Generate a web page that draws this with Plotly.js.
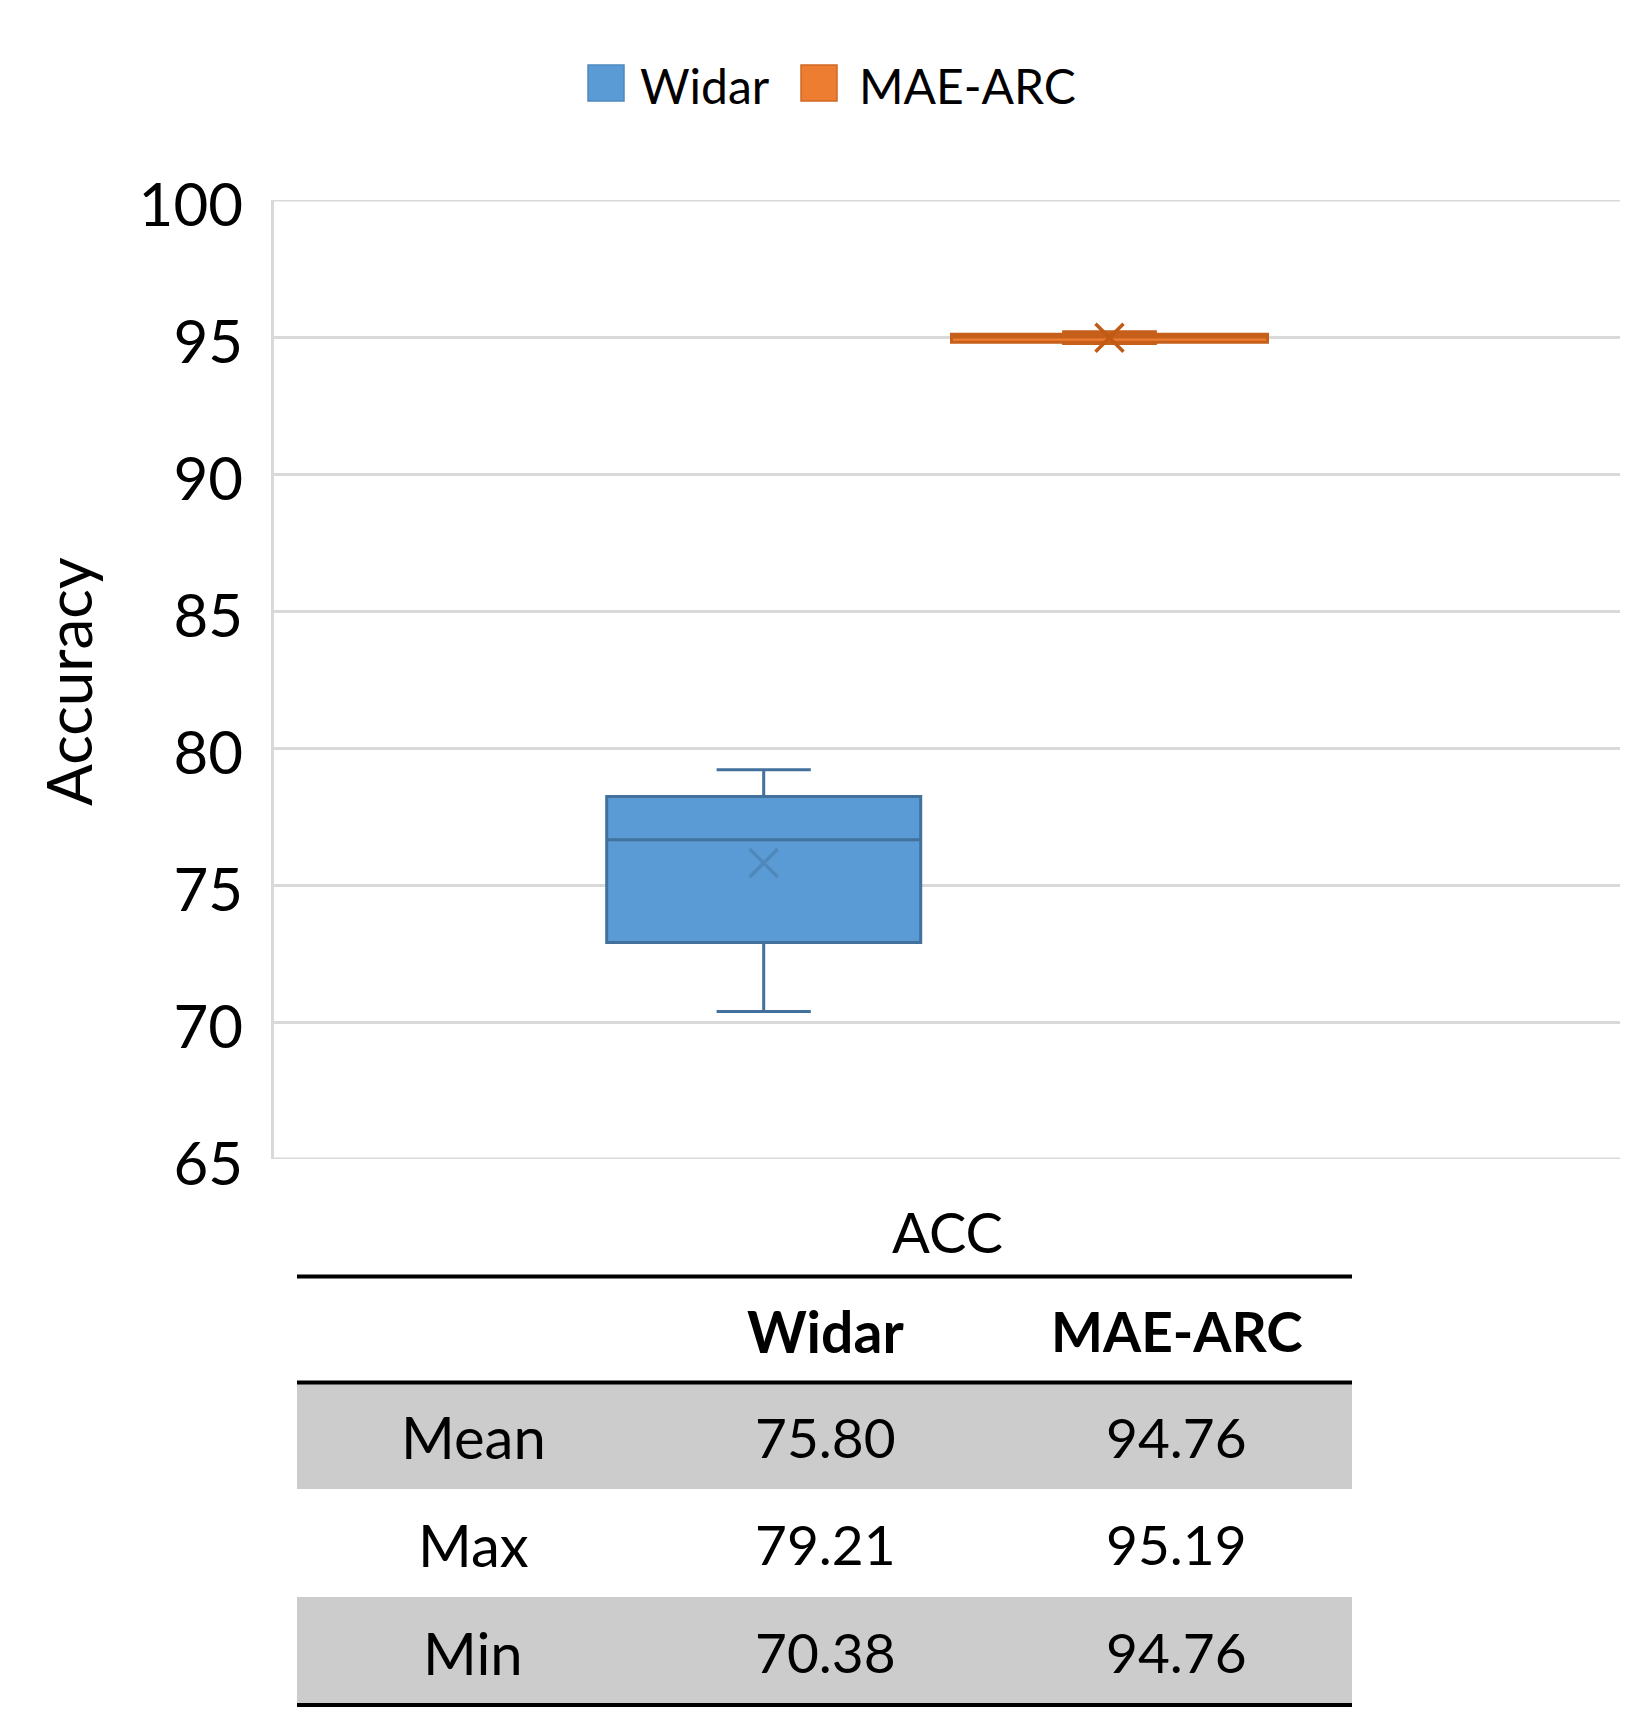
<!DOCTYPE html>
<html><head><meta charset="utf-8">
<script src="https://cdn.plot.ly/plotly-3.0.1.min.js"></script>
<style>html,body{margin:0;padding:0;background:#fff}</style>
</head><body><div id="chart" style="width:1650px;height:1726px"></div>
<script>
// ---- data ----
const seriesNames = ['Widar', 'MAE-ARC'];
const lowerFence = [70.38, 94.76];
const q1Values = [72.90, 94.81];
const medianValues = [76.65, 95.00];
const q3Values = [78.23, 95.10];
const upperFence = [79.21, 95.19];
const meanValues = [75.80, 94.97];
const yTicks = [65, 70, 75, 80, 85, 90, 95, 100];
const xTitle = 'ACC';
const yTitle = 'Accuracy';
const statLabels = ['Mean', 'Max', 'Min'];
const widarStats = ['75.80', '79.21', '70.38'];
const maeStats = ['94.76', '95.19', '94.76'];

// ---- layout geometry ----
const W = 1650, H = 1726, L = 274, R = 30, T = 200, B = 567;
const plotW = W - L - R, plotH = H - T - B;
const px2x = p => (p - L) / plotW;
const py2y = p => (H - B - p) / plotH;
const FONT = 'Lato, "Open Sans", sans-serif';

const boxPos = [px2x(763.7), px2x(1109.5)];
const boxWidth = [314 / plotW, 316 / plotW];
const fills = ['#5b9bd5', '#ed7d31'];
const lines = ['#41719c', '#c55f1a'];
const meanColors = ['rgba(65,113,156,0.45)', '#c05a15'];

const traces = seriesNames.map((n, i) => ({
  type: 'box', name: n, x: [boxPos[i]],
  q1: [q1Values[i]], median: [medianValues[i]], q3: [q3Values[i]],
  lowerfence: [lowerFence[i]], upperfence: [upperFence[i]],
  width: boxWidth[i], whiskerwidth: 0.3, boxpoints: false,
  fillcolor: fills[i], line: {color: lines[i], width: 3},
  showlegend: false, hoverinfo: 'skip'
}));
traces.push({
  type: 'scatter', mode: 'markers', x: boxPos, y: meanValues, showlegend: false, hoverinfo: 'skip',
  marker: {symbol: 'x-thin-open', size: 28, color: meanColors, line: {width: 3.5, color: meanColors}}
});

const GRID = '#d9d9d9';
const shapes = [];
const annotations = [];
// gridlines at the range ends (Plotly omits them at the plot edges)
[yTicks[0], yTicks[yTicks.length - 1]].forEach(v => {
  shapes.push({type: 'line', xref: 'paper', yref: 'y', x0: 0, x1: 1, y0: v, y1: v, layer: 'below',
    line: {color: GRID, width: 3}});
});
// legend
const legSq = [[588, 624], [801, 837]];
const legText = [638, 857];
const legBorder = ['#4f88bd', '#d06a25'];
seriesNames.forEach((n, i) => {
  shapes.push({type: 'rect', xref: 'paper', yref: 'paper', x0: px2x(legSq[i][0]), x1: px2x(legSq[i][1]),
    y0: py2y(65), y1: py2y(101), fillcolor: fills[i], line: {color: legBorder[i], width: 1.5}});
  annotations.push({xref: 'paper', yref: 'paper', x: px2x(legText[i]), y: py2y(86), xanchor: 'left', yanchor: 'middle',
    text: n, showarrow: false, font: {family: FONT, size: 48, color: '#000'}});
});
// axis titles
annotations.push({xref: 'paper', yref: 'paper', x: px2x(947), y: py2y(1231), xanchor: 'center', yanchor: 'middle',
  text: xTitle, showarrow: false, font: {family: FONT, size: 56, color: '#000'}});
annotations.push({xref: 'paper', yref: 'paper', x: px2x(68), y: py2y(681), xanchor: 'center', yanchor: 'middle',
  text: yTitle, textangle: -90, showarrow: false, font: {family: FONT, size: 62, color: '#000'}});

// table
const tX0 = 297, tX1 = 1352;
const colX = [473, 825.5, 1176.6];
const rowTop = [1383, 1489, 1597];
const rowBot = [1489, 1597, 1705];
const rowFill = ['#cccccc', '#ffffff', '#cccccc'];
statLabels.forEach((lab, r) => {
  if (rowFill[r] !== '#ffffff') shapes.push({type: 'rect', xref: 'paper', yref: 'paper', layer: 'below',
    x0: px2x(tX0), x1: px2x(tX1), y0: py2y(rowBot[r]), y1: py2y(rowTop[r]), fillcolor: rowFill[r], line: {width: 0}});
  const yc = (rowTop[r] + rowBot[r]) / 2 + 1;
  [lab, widarStats[r], maeStats[r]].forEach((t, c) => {
    annotations.push({xref: 'paper', yref: 'paper', x: px2x(colX[c]), y: py2y(yc), xanchor: 'center', yanchor: 'middle',
      text: t, showarrow: false, font: {family: FONT, size: c === 0 ? 58 : 55, color: '#000'}});
  });
});
seriesNames.forEach((n, i) => {
  annotations.push({xref: 'paper', yref: 'paper', x: px2x(colX[i + 1]), y: py2y(1331), xanchor: 'center', yanchor: 'middle',
    text: '<b>' + n + '</b>', showarrow: false, font: {family: FONT, size: i === 0 ? 57 : 55, color: '#000'}});
});
[1276.5, 1382.5, 1705].forEach(yy => {
  shapes.push({type: 'line', xref: 'paper', yref: 'paper', x0: px2x(tX0), x1: px2x(tX1), y0: py2y(yy), y1: py2y(yy),
    line: {color: '#000', width: 4}});
});

const layout = {
  width: W, height: H, autosize: false,
  margin: {l: L, r: R, t: T, b: B, pad: 0},
  paper_bgcolor: '#fff', plot_bgcolor: '#fff',
  showlegend: false,
  xaxis: {range: [0, 1], showgrid: false, zeroline: false, showticklabels: false, showline: false, ticks: '', fixedrange: true},
  yaxis: {range: [65, 100], tickvals: yTicks, ticktext: yTicks.map(String), showgrid: true, gridcolor: GRID, gridwidth: 3,
    showline: true, linecolor: GRID, linewidth: 3, zeroline: false,
    ticks: 'outside', ticklen: 16, tickcolor: 'rgba(0,0,0,0)', ticklabelshift: 5,
    tickfont: {family: FONT, size: 60, color: '#000'}, fixedrange: true},
  shapes: shapes, annotations: annotations
};
Plotly.newPlot('chart', traces, layout, {displayModeBar: false, staticPlot: true});
</script></body></html>
